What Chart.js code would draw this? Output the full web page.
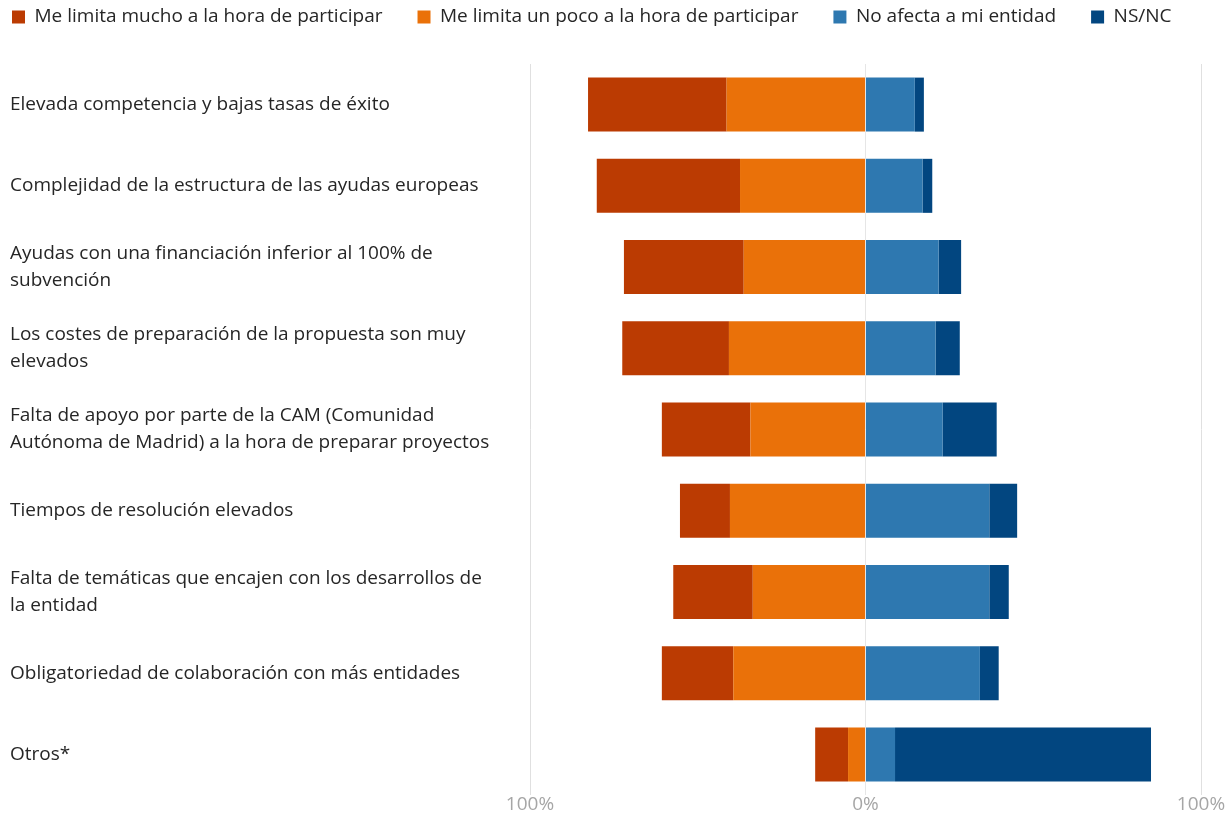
<!DOCTYPE html>
<html>
<head>
<meta charset="utf-8">
<script src="https://cdn.jsdelivr.net/npm/chart.js@4.4.1/dist/chart.umd.min.js"></script>
<style>
  html, body { margin: 0; padding: 0; background: #ffffff; }
  #wrap { width: 1231px; height: 814px; }
</style>
</head>
<body>
<div id="wrap"><canvas id="c"></canvas></div>
<script>
const categories = [
  "Elevada competencia y bajas tasas de éxito",
  "Complejidad de la estructura de las ayudas europeas",
  ["Ayudas con una financiación inferior al 100% de", "subvención"],
  ["Los costes de preparación de la propuesta son muy", "elevados"],
  ["Falta de apoyo por parte de la CAM (Comunidad", "Autónoma de Madrid) a la hora de preparar proyectos"],
  "Tiempos de resolución elevados",
  ["Falta de temáticas que encajen con los desarrollos de", "la entidad"],
  "Obligatoriedad de colaboración con más entidades",
  "Otros*"
];

const seriesNames = [
  "Me limita mucho a la hora de participar",
  "Me limita un poco a la hora de participar",
  "No afecta a mi entidad",
  "NS/NC"
];

const limitaMucho = [41.3, 42.7, 35.7, 31.8, 26.4, 14.9, 23.7, 21.3, 9.8];
const limitaPoco  = [41.4, 37.4, 36.3, 40.7, 34.3, 40.4, 33.6, 39.4, 5.2];
const noAfecta    = [14.7, 17.0, 21.8, 20.9, 23.0, 36.9, 36.9, 34.1, 8.8];
const nsnc        = [2.7, 2.9, 6.7, 7.2, 16.1, 8.3, 5.8, 5.6, 76.3];

const xTicks = [-100, 0, 100];

const colors = ["#BB3B02", "#EA7109", "#2E78B0", "#024680"];
const FONT = "'Open Sans', 'Noto Sans', sans-serif";
const FS = 19;

// Negative side stacks from 0 outward in dataset order: "poco" first, then "mucho".
const datasets = [
  { label: seriesNames[1], data: limitaPoco.map(v => -v), backgroundColor: colors[1], legendRank: 1 },
  { label: seriesNames[0], data: limitaMucho.map(v => -v), backgroundColor: colors[0], legendRank: 0 },
  { label: seriesNames[2], data: noAfecta, backgroundColor: colors[2], legendRank: 2 },
  { label: seriesNames[3], data: nsnc, backgroundColor: colors[3], legendRank: 3 }
].map(d => Object.assign(d, {
  borderWidth: 0,
  barPercentage: 0.665,
  categoryPercentage: 1.0,
  stack: "s"
}));

// Keep the legend on one row with wide gaps, and place it in the top-left corner.
const EXTRA = 120;
const legendNudge = {
  id: "legendNudge",
  beforeLayout(chart) {
    const l = chart.legend;
    if (l && !l._wideRow) {
      const origUpdate = l.update.bind(l);
      l.update = (maxWidth, maxHeight, margins) => origUpdate(maxWidth + EXTRA, maxHeight, margins);
      l._wideRow = true;
    }
  },
  afterLayout(chart) {
    const l = chart.legend;
    if (l) {
      l.left -= 33;
      l.right += EXTRA;
      l.width = l.right - l.left;
      l.top -= 27.5;
    }
  }
};

new Chart(document.getElementById("c"), {
  type: "bar",
  data: { labels: categories, datasets },
  plugins: [legendNudge],
  options: {
    indexAxis: "y",
    responsive: true,
    maintainAspectRatio: false,
    animation: false,
    layout: { padding: { left: 10, right: 30, top: 0, bottom: 0 } },
    plugins: {
      tooltip: { enabled: false },
      legend: {
        position: "top",
        align: "start",
        labels: {
          boxWidth: 13,
          boxHeight: 13,
          padding: 35,
          color: "#262626",
          font: { family: FONT, size: FS },
          sort: (a, b) => datasets[a.datasetIndex].legendRank - datasets[b.datasetIndex].legendRank
        }
      }
    },
    scales: {
      x: {
        stacked: true,
        min: -100,
        max: 100,
        afterBuildTicks: (scale) => { scale.ticks = xTicks.map(v => ({ value: v })); },
        ticks: {
          color: "#a6a6a6",
          padding: 0,
          font: { family: FONT, size: FS, lineHeight: 1.0 },
          callback: (v) => Math.abs(v) + "%"
        },
        grid: {
          drawTicks: false,
          color: (ctx) => (ctx.tick && ctx.tick.value === 0) ? "#e6e6e6" : "#e0e0e0",
          lineWidth: 1
        },
        border: { display: false }
      },
      y: {
        stacked: true,
        afterFit: (scale) => { scale.width = 520; },
        ticks: {
          crossAlign: "far",
          color: "#262626",
          font: { family: FONT, size: FS, lineHeight: 1.42 }
        },
        grid: { display: false },
        border: { display: false }
      }
    }
  }
});
</script>
</body>
</html>
